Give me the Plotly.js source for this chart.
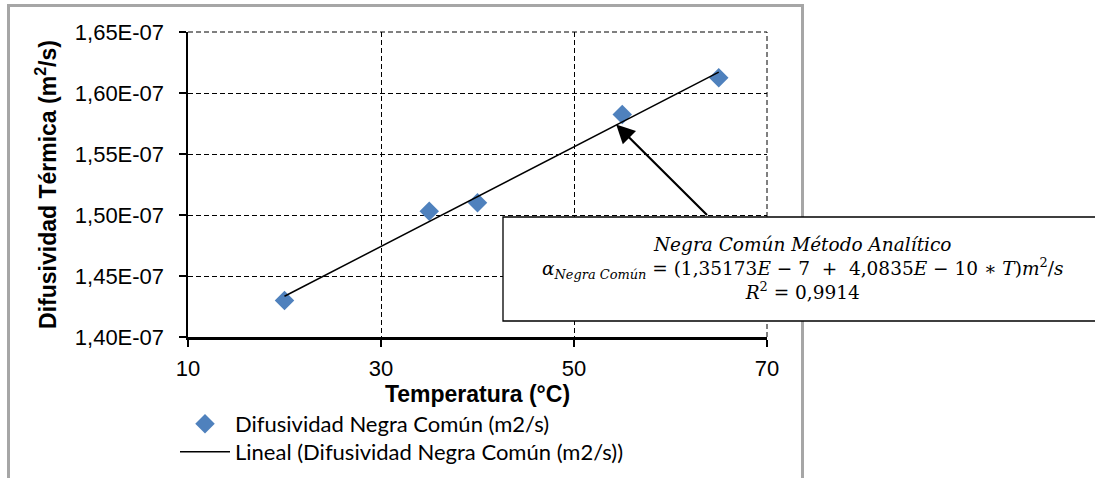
<!DOCTYPE html>
<html>
<head>
<meta charset="utf-8">
<script src="https://cdn.plot.ly/plotly-3.0.1.min.js"></script>
<style>
  html, body { margin: 0; padding: 0; background: #ffffff; }
  #chart { width: 1095px; height: 478px; }
</style>
</head>
<body>
<div id="chart"></div>
<script>
// Measured thermal diffusivity of "Negra Común" against temperature
const temperatures = [20, 35, 40, 55, 65];
const diffusivity = [1.430e-7, 1.5031e-7, 1.510e-7, 1.5824e-7, 1.6125e-7];

// Linear fit reported in the equation box
const trendIntercept = 1.35173e-7;
const trendSlope = 4.0835e-10;
const rSquared = '0,9914';

// Axis ticks
const xTickVals = [10, 30, 50, 70];
const yTickVals = [1.40e-7, 1.45e-7, 1.50e-7, 1.55e-7, 1.60e-7, 1.65e-7];
const yTickLabels = ['1,40E-07', '1,45E-07', '1,50E-07', '1,55E-07', '1,60E-07', '1,65E-07'];

const seriesName = 'Difusividad Negra Común (m2/s)';
const trendName = 'Lineal (Difusividad Negra Común (m2/s))';

// Trend line evaluated over the measured temperature span
const tMin = Math.min(...temperatures);
const tMax = Math.max(...temperatures);
const trendX = [tMin, tMax];
const trendY = trendX.map(t => trendIntercept + trendSlope * t);

const tickFont = { family: '"Liberation Sans", Arial, sans-serif', size: 22, color: '#000000' };
const titleFont = { family: '"Liberation Sans", Arial, sans-serif', size: 23, color: '#000000', weight: 'bold' };
const mathFont = { family: '"DejaVu Serif", serif', size: 18.5, color: '#000000' };
const legendFont = { family: 'Lato, sans-serif', size: 22, color: '#000000' };

const points = {
  x: temperatures,
  y: diffusivity,
  type: 'scatter',
  mode: 'markers',
  name: seriesName,
  legend: 'legend',
  marker: { symbol: 'diamond', size: 15, color: '#4f81bd' },
  cliponaxis: false
};

const trend = {
  x: trendX,
  y: trendY,
  type: 'scatter',
  mode: 'lines',
  name: trendName,
  legend: 'legend2',
  line: { color: '#000000', width: 1.5 }
};

// Pixel geometry of the plot area, used to place paper-referenced boxes
const plotLeft = 188, plotRight = 767, plotTop = 32, plotBottom = 337;
const px = v => (v - plotLeft) / (plotRight - plotLeft);
const py = v => (plotBottom - v) / (plotBottom - plotTop);

const gridDash = '5px,3px';

const legendBase = {
  xanchor: 'left', yanchor: 'middle',
  font: legendFont,
  bgcolor: 'rgba(0,0,0,0)',
  itemwidth: 50
};

const layout = {
  width: 1095,
  height: 478,
  margin: { l: plotLeft, r: 1095 - plotRight, t: plotTop, b: 478 - plotBottom, autoexpand: false },
  paper_bgcolor: '#ffffff',
  plot_bgcolor: '#ffffff',
  showlegend: true,
  legend: Object.assign({ x: px(175), y: py(424) }, legendBase),
  legend2: Object.assign({ x: px(175), y: py(452) }, legendBase),
  xaxis: {
    range: [10, 70],
    tickvals: xTickVals,
    ticktext: xTickVals.map(String),
    tickfont: tickFont,
    ticks: 'outside', ticklen: 7, tickwidth: 2, tickcolor: '#000000',
    ticklabelstandoff: 3,
    showline: true, linecolor: '#000000', linewidth: 2.5,
    showgrid: true, gridcolor: '#000000', gridwidth: 1, griddash: gridDash,
    zeroline: false,
    title: { text: 'Temperatura (°C)', font: titleFont, standoff: 0 },
    fixedrange: true
  },
  yaxis: {
    range: [1.40e-7, 1.65e-7],
    tickvals: yTickVals,
    ticktext: yTickLabels,
    tickfont: tickFont,
    ticks: 'outside', ticklen: 7, tickwidth: 2, tickcolor: '#000000',
    ticklabelstandoff: 10,
    showline: true, linecolor: '#000000', linewidth: 2.5,
    showgrid: true, gridcolor: '#000000', gridwidth: 1, griddash: gridDash,
    zeroline: false,
    title: { text: 'Difusividad Térmica (m<sup>2</sup>/s)', font: titleFont, standoff: 12 },
    fixedrange: true
  },
  shapes: [
    // dashed grid edges along the top and right of the plot area
    {
      type: 'line', xref: 'paper', yref: 'paper', layer: 'below',
      x0: 0, x1: 1, y0: 1, y1: 1,
      line: { color: '#000000', width: 1, dash: gridDash }
    },
    {
      type: 'line', xref: 'paper', yref: 'paper', layer: 'below',
      x0: 1, x1: 1, y0: 0, y1: 1,
      line: { color: '#000000', width: 1, dash: gridDash }
    },
    // outer chart frame
    {
      type: 'rect', xref: 'paper', yref: 'paper', layer: 'above',
      x0: px(8.5), x1: px(802.5), y0: py(520), y1: py(5.5),
      line: { color: '#a6a6a6', width: 3 }, fillcolor: 'rgba(0,0,0,0)'
    },
    // equation box
    {
      type: 'rect', xref: 'paper', yref: 'paper', layer: 'above',
      x0: px(503), x1: px(1100), y0: py(321), y1: py(217),
      line: { color: '#000000', width: 1.3 }, fillcolor: '#ffffff'
    }
  ],
  annotations: [
    {
      xref: 'paper', yref: 'paper', x: px(802), y: py(268),
      xanchor: 'center', yanchor: 'middle', showarrow: false, align: 'center',
      font: mathFont,
      text: '<i>Negra Común Método Analítico</i><br>' +
            '<i>α</i><sub><i>Negra Común</i></sub> = (1,35173<i>E</i> − 7  +  4,0835<i>E</i> − 10 ∗ <i>T</i>)<i>m</i><sup>2</sup>/<i>s</i><br>' +
            '<i>R</i><sup>2</sup> = ' + rSquared
    },
    {
      xref: 'x', yref: 'y', axref: 'x', ayref: 'y',
      x: 54.37, y: 1.5742e-7, ax: 63.94, ay: 1.4988e-7,
      text: '', showarrow: true,
      arrowhead: 2, arrowsize: 1.7, arrowwidth: 2.2, arrowcolor: '#000000'
    }
  ]
};

Plotly.newPlot('chart', [points, trend], layout, { staticPlot: true, displayModeBar: false });
</script>
</body>
</html>
